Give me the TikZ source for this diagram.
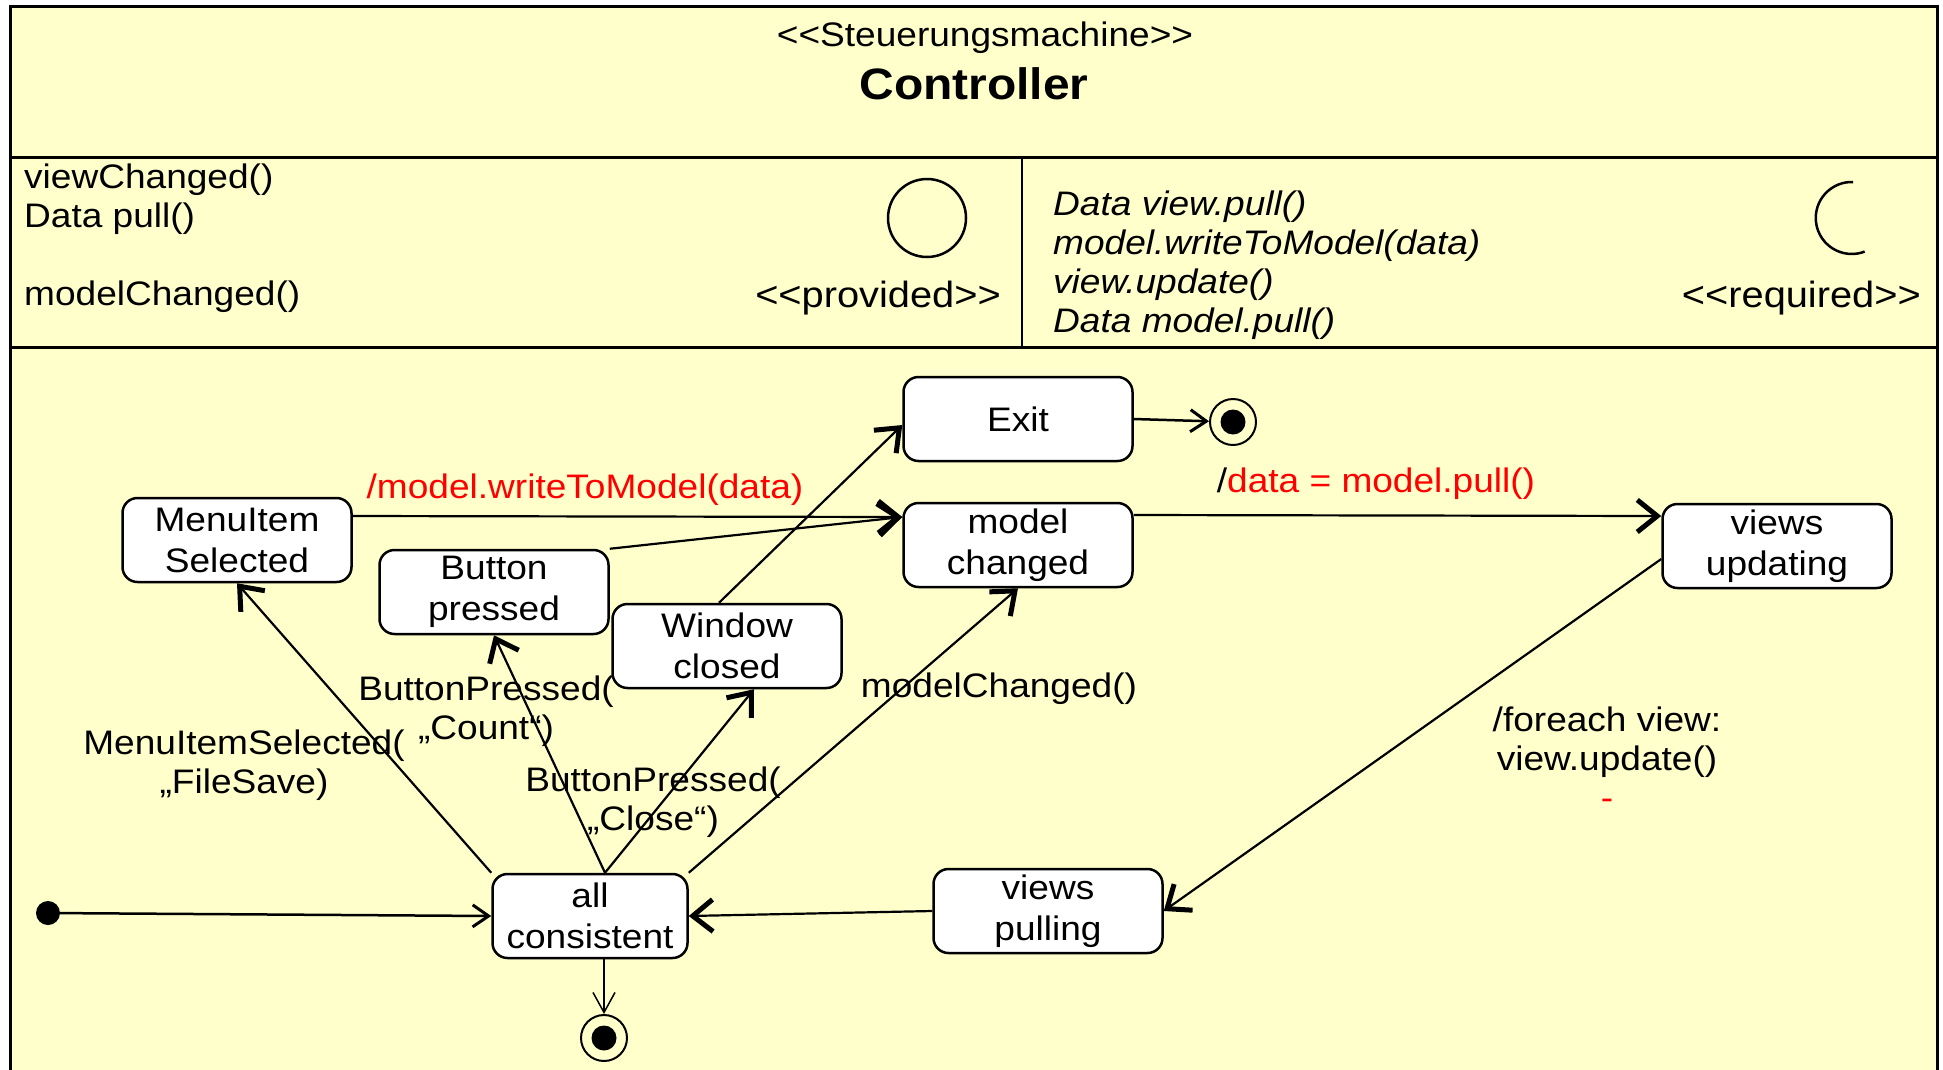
\documentclass[tikz,border=0pt]{standalone}
\usepackage{fontspec}
\setmainfont{Liberation Sans}[FakeStretch=1.09]
\usetikzlibrary{arrows.meta}
\definecolor{umlbg}{RGB}{255,255,204}
\newcommand{\stereo}[1]{\mbox{<}\mbox{<}#1\mbox{>}\mbox{>}}

\begin{document}
\begin{tikzpicture}[x=1pt,y=-1pt,
  every node/.style={font=\fontsize{34}{39}\selectfont},
  state/.style={draw,fill=white,rounded corners=15pt,line width=2.5pt,
    minimum width=229pt,minimum height=84pt,align=center,inner sep=0pt,
    font=\fontsize{34}{41}\selectfont},
  initial/.style={circle,fill=black,minimum size=24pt,inner sep=0pt},
  final/.style={circle,draw,line width=2pt,minimum size=46pt,inner sep=0pt,
    path picture={\fill (path picture bounding box.center) circle[radius=12.5pt];}},
  trans/.style={line width=2.2pt,-{Straight Barb[length=20pt,width=32pt,line width=5pt]}},
  smalltrans/.style={line width=2.5pt,-{Straight Barb[length=16pt,width=22pt,line width=3pt]}},
  thintrans/.style={line width=1.5pt,-{Straight Barb[length=20pt,width=22pt,line width=1.5pt]}},
  lbl/.style={align=center,inner sep=0pt}]
\useasboundingbox (0,0) rectangle (1943,1069);
\fill[white] (0,0) rectangle (1943,1069);

% frame and compartments
\draw[line width=3pt,fill=umlbg] (10,6) rectangle (1937,1090);
\draw[line width=3pt] (10,157) -- (1937,157);
\draw[line width=3pt] (10,347) -- (1937,347);
\draw[line width=2.5pt] (1022,157) -- (1022,347);

% header
\node (stereo) at (985,38) {\stereo{Steuerungsmachine}};
\node[font=\fontsize{44}{48}\selectfont\bfseries] (name) at (974,84) {Controller};

% provided interface
\node[anchor=north west,align=left,inner sep=0pt] (provlist) at (24,164)
  {viewChanged()\\Data pull()\\[39pt]modelChanged()};
\draw[line width=2.5pt] (927,218) circle[radius=39];
\node[anchor=base east,inner sep=0pt,font=\fontsize{36.5}{40}\selectfont] (prov) at (1001,307) {\stereo{provided}};

% required interface
\node[anchor=north west,align=left,inner sep=0pt,font=\fontsize{34}{39}\selectfont\itshape] (reqlist) at (1053,191)
  {Data view.pull()\\model.writeToModel(data)\\view.update()\\Data model.pull()};
\draw[line width=2.5pt] (1853,182) arc[start angle=272,end angle=69,radius=36];
\node[anchor=base east,inner sep=0pt,font=\fontsize{36.5}{40}\selectfont] (req) at (1921,307) {\stereo{required}};

% states
\node[state] (exit) at (1018,419) {Exit};
\node[state] (model) at (1018,545) {model\\changed};
\node[state] (menu) at (237,540) {MenuItem\\Selected};
\node[state] (button) at (494,592) {Button\\pressed};
\node[state] (window) at (727,646) {Window\\closed};
\node[state] (update) at (1777,546) {views\\updating};
\node[state] (pull) at (1048,911) {views\\pulling};
\node[state,minimum width=195pt] (allc) at (590,916) {all\\consistent};
\node[initial] (init) at (48,913) {};
\node[final] (fin1) at (1233,422) {};
\node[final] (fin2) at (604,1038) {};

% transitions
\draw[trans] ([yshift=24pt]menu.east) -- ([yshift=28pt]model.west);
\draw[trans] (button.north east) -- ([yshift=28pt]model.west);
\draw[trans] ([xshift=-8pt]window.north) -- ([yshift=-6pt]exit.west);
\draw[smalltrans] (exit.east) -- (fin1);
\draw[trans] ([yshift=30pt]model.east) -- ([yshift=30pt]update.west);
\draw[trans] ([yshift=-13pt]update.west) -- (pull.east);
\draw[trans] (pull.west) -- (allc.east);
\draw[smalltrans] (init) -- (allc.west);
\draw[thintrans] (allc.south -| fin2) -- (fin2);
\draw[trans] (allc.north west) -- (menu.south);
\draw[trans] ([xshift=15pt]allc.north) -- (button.south);
\draw[trans] ([xshift=15pt]allc.north) -- ([xshift=27pt]window.south);
\draw[trans] (allc.north east) -- (model.south);

% labels
\node[text=red] (lwrite) at (585,490) {/model.writeToModel(data)};
\node (lpull) at (1376,484) {/\textcolor{red}{data = model.pull()}};
\node[lbl] (lforeach) at (1607,758) {/foreach view:\\ view.update()\\\textcolor{red}{-}};
\node[lbl] (lmenu) at (244,765) {MenuItemSelected(\\„FileSave)};
\node[lbl] (lcount) at (486,711) {ButtonPressed(\\„Count“)};
\node[lbl] (lclose) at (653,802) {ButtonPressed(\\„Close“)};
\node (lchanged) at (999,689) {modelChanged()};
\end{tikzpicture}
\end{document}
